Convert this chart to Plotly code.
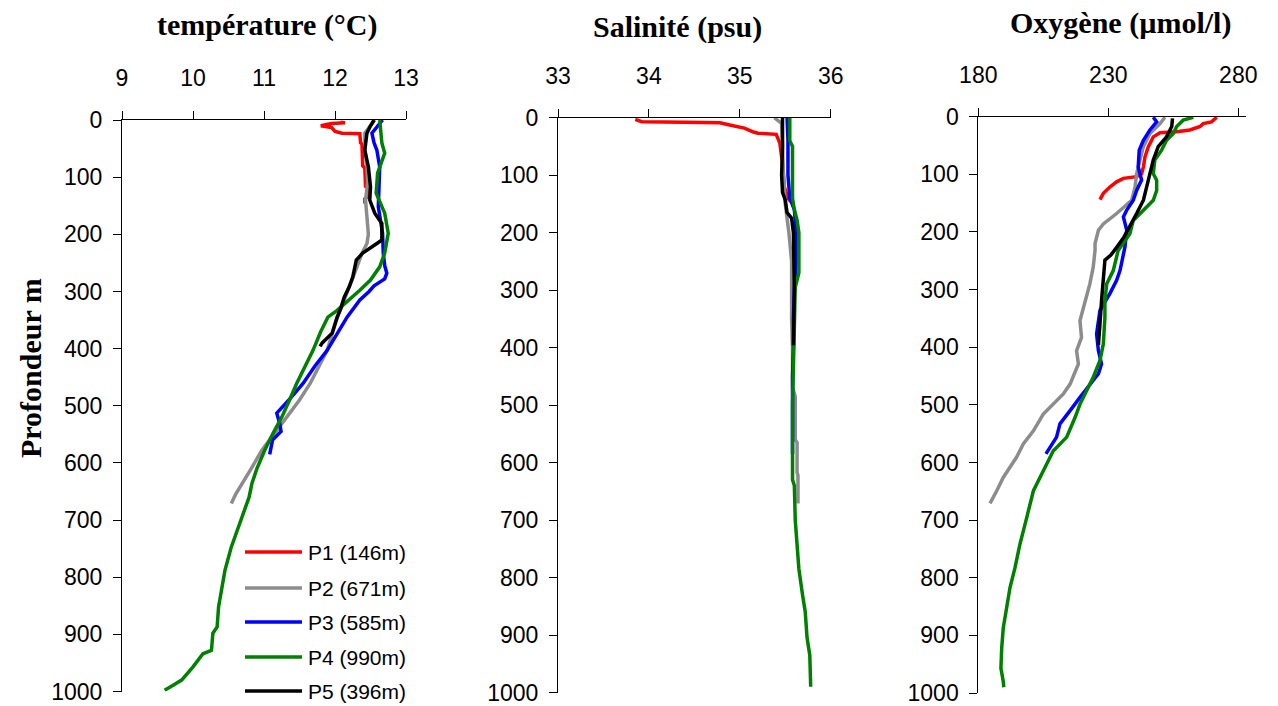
import plotly.graph_objects as go

# Station labels and colours
stations = ["P1 (146m)", "P2 (671m)", "P3 (585m)", "P4 (990m)", "P5 (396m)"]
colors = ["#ff0000", "#8c8c8c", "#0000ff", "#008000", "#000000"]

# ---- Temperature profiles (°C vs depth m) ----
p1_temp_depth = [4, 5, 6, 8, 10, 13, 20, 23, 24, 40, 42, 80, 84, 116, 120, 134, 138, 146]
p1_temp = [12.08, 12.14, 11.95, 11.85, 11.80, 11.95, 12.00, 12.10, 12.35, 12.36, 12.38, 12.39, 12.42, 12.43, 12.47, 12.47, 12.42, 12.42]

p2_temp_depth = [0, 10, 23, 50, 80, 110, 140, 170, 200, 216, 233, 260, 280, 310, 350, 403, 430, 461, 490, 520, 550, 578, 610, 636, 655, 671]
p2_temp = [12.56, 12.50, 12.42, 12.42, 12.45, 12.46, 12.43, 12.45, 12.47, 12.45, 12.38, 12.30, 12.24, 12.15, 12.02, 11.89, 11.78, 11.65, 11.50, 11.32, 11.15, 10.97, 10.82, 10.69, 10.60, 10.54]

p3_temp_depth = [0, 10, 23, 40, 53, 82, 117, 152, 198, 233, 255, 268, 278, 290, 300, 315, 345, 375, 403, 430, 461, 490, 513, 530, 545, 560, 575, 585]
p3_temp = [12.67, 12.60, 12.52, 12.55, 12.59, 12.63, 12.62, 12.61, 12.67, 12.68, 12.70, 12.73, 12.70, 12.55, 12.48, 12.35, 12.17, 12.03, 11.89, 11.72, 11.55, 11.35, 11.18, 11.22, 11.24, 11.12, 11.10, 11.08]

p4_temp_depth = [0, 20, 40, 58, 93, 128, 163, 198, 233, 257, 280, 298, 315, 333, 345, 370, 403, 430, 461, 490, 520, 550, 578, 610, 636, 660, 688, 718, 747, 788, 820, 852, 887, 898, 928, 934, 957, 980, 989, 998]
p4_temp = [12.63, 12.64, 12.66, 12.70, 12.60, 12.58, 12.70, 12.75, 12.70, 12.63, 12.50, 12.35, 12.20, 12.03, 11.90, 11.80, 11.69, 11.58, 11.46, 11.36, 11.25, 11.12, 11.01, 10.90, 10.83, 10.79, 10.71, 10.62, 10.54, 10.45, 10.40, 10.36, 10.34, 10.28, 10.26, 10.14, 10.00, 9.84, 9.72, 9.60]

p5_temp_depth = [0, 10, 23, 53, 82, 117, 140, 163, 181, 210, 216, 233, 245, 275, 292, 310, 330, 345, 373, 390, 396]
p5_temp = [12.55, 12.50, 12.45, 12.42, 12.47, 12.50, 12.49, 12.56, 12.66, 12.66, 12.59, 12.39, 12.30, 12.25, 12.20, 12.13, 12.08, 12.03, 11.96, 11.82, 11.79]

# ---- Salinity profiles (psu vs depth m) ----
p1_sal_depth = [3, 7, 8, 9, 13, 18, 25, 27, 29, 44, 80, 120, 140, 146]
p1_sal = [33.85, 33.92, 34.40, 34.78, 34.90, 35.05, 35.15, 35.20, 35.40, 35.44, 35.47, 35.49, 35.53, 35.56]

p2_sal_depth = [0, 5, 10, 50, 100, 150, 200, 250, 300, 350, 400, 470, 485, 560, 565, 618, 622, 671]
p2_sal = [35.38, 35.42, 35.46, 35.47, 35.48, 35.50, 35.54, 35.57, 35.57, 35.57, 35.58, 35.58, 35.61, 35.61, 35.63, 35.63, 35.64, 35.64]

p3_sal_depth = [0, 40, 100, 140, 160, 200, 250, 300, 350, 400, 450, 500, 550, 585]
p3_sal = [35.52, 35.53, 35.53, 35.55, 35.60, 35.62, 35.62, 35.60, 35.59, 35.59, 35.58, 35.58, 35.58, 35.58]

p4_sal_depth = [0, 40, 50, 140, 160, 178, 200, 270, 295, 400, 500, 630, 640, 700, 755, 785, 830, 860, 905, 935, 990]
p4_sal = [35.55, 35.55, 35.58, 35.58, 35.60, 35.63, 35.65, 35.65, 35.61, 35.59, 35.58, 35.58, 35.60, 35.61, 35.63, 35.65, 35.69, 35.72, 35.74, 35.77, 35.78]

p5_sal_depth = [0, 50, 100, 130, 143, 165, 175, 200, 300, 396]
p5_sal = [35.47, 35.47, 35.46, 35.47, 35.50, 35.52, 35.57, 35.59, 35.60, 35.59]

# ---- Dissolved oxygen profiles (µmol/l vs depth m) ----
p1_oxy_depth = [1, 9, 12, 17, 23, 26, 28, 35, 52, 70, 87, 99, 104, 107, 113, 122, 133, 144]
p1_oxy = [271.7, 269.7, 266.5, 265.3, 261.4, 256.3, 249.9, 247.3, 245.4, 244.1, 243.5, 242.8, 240.9, 235.8, 233.2, 230.6, 228.1, 226.8]

p2_oxy_depth = [1, 12, 29, 52, 75, 99, 122, 145, 168, 186, 197, 220, 232, 261, 290, 330, 354, 383, 406, 429, 464, 481, 499, 516, 545, 568, 591, 626, 649, 671]
p2_oxy = [251.8, 249.9, 246.0, 243.5, 242.2, 240.9, 240.3, 239.0, 233.2, 228.1, 226.2, 224.9, 224.9, 224.2, 222.9, 220.4, 219.1, 219.7, 217.8, 218.5, 215.3, 212.7, 208.8, 205.0, 201.2, 197.3, 194.7, 189.6, 187.1, 184.5]

p3_oxy_depth = [1, 9, 23, 41, 58, 87, 110, 128, 145, 162, 174, 197, 226, 267, 284, 307, 336, 377, 406, 429, 446, 464, 487, 510, 533, 556, 575, 585]
p3_oxy = [247.3, 248.6, 246.0, 243.5, 241.9, 241.5, 242.8, 240.9, 239.6, 237.1, 235.8, 237.1, 236.4, 234.5, 233.2, 230.6, 226.8, 225.5, 226.2, 227.4, 226.2, 222.9, 219.1, 215.3, 211.4, 210.1, 207.6, 206.0]

p4_oxy_depth = [1, 6, 17, 29, 41, 58, 75, 99, 110, 128, 145, 162, 180, 203, 232, 267, 290, 319, 348, 394, 423, 452, 475, 499, 522, 556, 580, 614, 649, 696, 742, 783, 817, 852, 887, 922, 957, 980, 990]
p4_oxy = [262.7, 258.8, 256.3, 255.0, 252.4, 250.5, 247.9, 247.3, 248.6, 248.6, 247.3, 243.5, 239.6, 238.3, 233.8, 231.9, 229.4, 228.7, 228.7, 228.1, 226.8, 224.2, 221.7, 219.1, 217.2, 214.0, 208.8, 205.0, 201.2, 198.6, 196.0, 194.1, 192.2, 190.9, 189.6, 189.0, 188.7, 189.6, 189.8]

p5_oxy_depth = [3, 17, 35, 52, 75, 99, 122, 145, 168, 191, 209, 225, 240, 249, 278, 319, 359, 396]
p5_oxy = [254.7, 254.4, 252.4, 249.2, 247.3, 246.0, 244.7, 243.5, 240.9, 238.3, 236.0, 233.5, 231.0, 228.7, 228.1, 227.4, 226.8, 226.2]

# Axis ticks
depth_ticks = list(range(0, 1001, 100))
temp_ticks = [9, 10, 11, 12, 13]
sal_ticks = [33, 34, 35, 36]
oxy_ticks = [180, 230, 280]

temp_series = [(p1_temp, p1_temp_depth), (p2_temp, p2_temp_depth), (p3_temp, p3_temp_depth),
               (p4_temp, p4_temp_depth), (p5_temp, p5_temp_depth)]
sal_series = [(p1_sal, p1_sal_depth), (p2_sal, p2_sal_depth), (p3_sal, p3_sal_depth),
              (p4_sal, p4_sal_depth), (p5_sal, p5_sal_depth)]
oxy_series = [(p1_oxy, p1_oxy_depth), (p2_oxy, p2_oxy_depth), (p3_oxy, p3_oxy_depth),
              (p4_oxy, p4_oxy_depth), (p5_oxy, p5_oxy_depth)]

W, H = 1278, 706
fig = go.Figure()

for axis_idx, series in ((1, temp_series), (2, sal_series), (3, oxy_series)):
    xa = "x" if axis_idx == 1 else f"x{axis_idx}"
    ya = "y" if axis_idx == 1 else f"y{axis_idx}"
    for (vals, depth), name, col in zip(series, stations, colors):
        fig.add_trace(go.Scatter(
            x=vals, y=depth, mode="lines", name=name, xaxis=xa, yaxis=ya,
            line=dict(color=col, width=3.5), showlegend=False,
        ))

tick_font = dict(family="Liberation Sans, Arial, sans-serif", size=23, color="black")
title_font = dict(family="Liberation Serif, Times New Roman, serif", size=30, color="black")


def xaxis_cfg(rng, ticks, domain, anchor):
    return dict(
        range=rng, tickvals=ticks, domain=domain, anchor=anchor, side="top",
        showline=True, linecolor="black", linewidth=1, ticks="outside",
        ticklen=8, tickcolor="black", tickwidth=1, showgrid=False, zeroline=False,
        tickfont=tick_font, ticklabelstandoff=16, automargin=False,
        ticklabeloverflow="allow",
    )


def yaxis_cfg(domain, anchor):
    return dict(
        range=[1000, 0], tickvals=depth_ticks, domain=domain, anchor=anchor,
        showline=True, linecolor="black", linewidth=1, ticks="outside",
        ticklen=8, tickcolor="black", tickwidth=1, showgrid=False, zeroline=False,
        tickfont=tick_font, ticklabelstandoff=6, automargin=False,
        ticklabeloverflow="allow",
    )


def px_x(px):
    return px / W


def px_y(py):
    return 1 - py / H


fig.update_layout(
    width=W, height=H,
    margin=dict(l=0, r=0, t=0, b=0, autoexpand=False),
    paper_bgcolor="white", plot_bgcolor="white",
    xaxis=xaxis_cfg([9, 13], temp_ticks, [px_x(122), px_x(406)], "y"),
    yaxis=yaxis_cfg([px_y(691.5), px_y(120)], "x"),
    xaxis2=xaxis_cfg([33, 36], sal_ticks, [px_x(558), px_x(830.7)], "y2"),
    yaxis2=yaxis_cfg([px_y(692.5), px_y(117.7)], "x2"),
    xaxis3=xaxis_cfg([180, 283], oxy_ticks, [px_x(978.3), px_x(1246.1)], "y3"),
    yaxis3=yaxis_cfg([px_y(693), px_y(116.7)], "x3"),
)

annotations = [
    dict(text="<b>température (°C)</b>", x=px_x(267), y=px_y(25)),
    dict(text="<b>Salinité (psu)</b>", x=px_x(677), y=px_y(27)),
    dict(text="<b>Oxygène (µmol/l)</b>", x=px_x(1120), y=px_y(23)),
    dict(text="<b>Profondeur m</b>", x=px_x(30), y=px_y(368), textangle=-90),
]
for a in annotations:
    a.update(xref="paper", yref="paper", showarrow=False, font=title_font,
             xanchor="center", yanchor="middle")
    fig.add_annotation(**a)

# Legend drawn inside the temperature panel
legend_rows = [552, 588, 622, 657, 691]
for name, col, ry in zip(stations, colors, legend_rows):
    fig.add_shape(type="line", xref="paper", yref="paper",
                  x0=px_x(245), x1=px_x(302), y0=px_y(ry), y1=px_y(ry),
                  line=dict(color=col, width=3.5))
    fig.add_annotation(text=name, xref="paper", yref="paper", x=px_x(306), y=px_y(ry),
                       xanchor="left", yanchor="middle", showarrow=False,
                       font=dict(family="Liberation Sans, Arial, sans-serif", size=21, color="black"))

fig.write_html("out.html")
